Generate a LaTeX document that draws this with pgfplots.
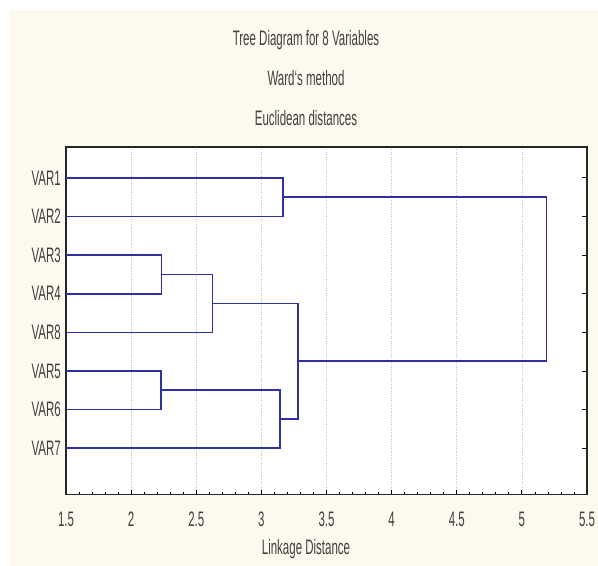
\documentclass[border=0pt]{standalone}
\usepackage{fontspec}
\setmainfont[FakeStretch=0.55]{Liberation Sans}
\usepackage{pgfplots}
\pgfplotsset{compat=1.18}
\definecolor{cream}{RGB}{253,249,238}
\definecolor{dendro}{RGB}{48,48,165}
\definecolor{gridc}{RGB}{195,195,195}
\begin{document}
\fontsize{21}{24}\selectfont
\begin{tikzpicture}[x=1bp,y=1bp]
\fill[white] (0,0) rectangle (598,566);
\fill[cream] (9,0) rectangle (598,556);
\useasboundingbox (0,0) rectangle (598,566);
\begin{axis}[
  at={(66bp,71.5bp)}, anchor=south west,
  width=521bp, height=347.5bp, scale only axis,
  xmin=1.5, xmax=5.5, ymin=0.2, ymax=9.2,
  y dir=reverse,
  axis background/.style={fill=white},
  axis line style={black!85, line width=1.2pt},
  xtick={1.5,2,...,5.5},
  xticklabels={1.5,2,2.5,3,3.5,4,4.5,5,5.5},
  minor x tick num=4,
  xtick pos=lower,
  tick align=inside,
  major tick length=5bp, minor tick length=3bp,
  tick style={black, line width=0.8pt},
  xmajorgrids,
  grid style={gridc, dotted, line width=0.7pt},
  ytick={1,...,8},
  yticklabels={VAR1,VAR2,VAR3,VAR4,VAR8,VAR5,VAR6,VAR7},
  ytick pos=right, yticklabel pos=left,
  xticklabel style={font=\fontsize{21}{24}\selectfont, text=black!75, yshift=-10bp},
  yticklabel style={font=\fontsize{21}{24}\selectfont, text=black!75, xshift=2bp},
  /pgf/number format/assume math mode=true,
]
\addplot[dendro, line width=1.6pt] coordinates {(1.5,1) (3.164,1) (3.164,2) (1.5,2)};
\addplot[dendro, line width=1.6pt] coordinates {(3.164,1.5) (5.188,1.5) (5.188,5.75) (3.279,5.75)};
\addplot[dendro, line width=1.6pt] coordinates {(1.5,3) (2.232,3) (2.232,4) (1.5,4)};
\addplot[dendro, line width=1.6pt] coordinates {(2.232,3.5) (2.626,3.5) (2.626,5) (1.5,5)};
\addplot[dendro, line width=1.6pt] coordinates {(1.5,6) (2.23,6) (2.23,7) (1.5,7)};
\addplot[dendro, line width=1.6pt] coordinates {(2.23,6.5) (3.143,6.5) (3.143,8) (1.5,8)};
\addplot[dendro, line width=1.6pt] coordinates {(2.626,4.25) (3.279,4.25) (3.279,7.25) (3.143,7.25)};
\end{axis}
\node[text=black!75] at (306,526) {Tree Diagram for 8 Variables};
\node[text=black!75] at (306,488) {Ward`s method};
\node[text=black!75] at (306,448) {Euclidean distances};
\node[text=black!75] at (306,17) {Linkage Distance};
\end{tikzpicture}
\end{document}
